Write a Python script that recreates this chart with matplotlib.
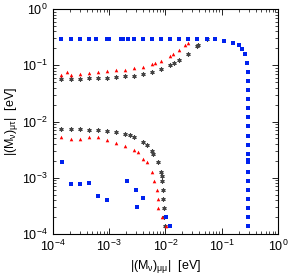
import matplotlib
matplotlib.use("Agg")
import matplotlib.pyplot as plt
import numpy as np

plt.rcParams['font.family'] = ['Liberation Sans', 'DejaVu Sans']
plt.rcParams['mathtext.fontset'] = 'custom'
plt.rcParams['mathtext.rm'] = 'Liberation Sans'
plt.rcParams['mathtext.it'] = 'Liberation Sans'

# blue squares: plateau then vertical drop at ~0.3 eV
blue_x = [1.39e-4, 2.09e-4, 3.02e-4, 4.36e-4, 5.8e-4, 9.1e-4, 9.9e-4, 1.62e-3, 1.75e-3,
          2.15e-3, 2.75e-3, 3.98e-3, 5.75e-3, 8.3e-3, 0.012, 0.0174, 0.025, 0.036, 0.0547,
          0.076, 0.11, 0.158, 0.203, 0.229, 0.259, 0.28,
          0.292, 0.293, 0.293, 0.293, 0.293, 0.293, 0.293, 0.293, 0.293, 0.293, 0.293,
          0.293, 0.293, 0.293, 0.293, 0.293, 0.293, 0.293, 0.293]
blue_y = [0.296, 0.296, 0.296, 0.296, 0.296, 0.296, 0.296, 0.296, 0.296,
          0.296, 0.296, 0.296, 0.296, 0.296, 0.296, 0.296, 0.296, 0.296, 0.296,
          0.296, 0.273, 0.25, 0.229, 0.194, 0.158, 0.11,
          0.076, 0.0525, 0.036, 0.025, 0.0174, 0.012, 0.0083, 0.0055, 0.0038, 0.0026,
          0.00207, 0.0019, 0.00126, 8.7e-4, 6.05e-4, 4.17e-4, 2.9e-4, 2.0e-4, 1.39e-4]

# blue squares: scattered low branch
blue2_x = [1.45e-4, 2.09e-4, 3.02e-4, 4.36e-4, 6.3e-4, 9.1e-4, 2.07e-3, 3.0e-3, 3.1e-3,
           3.98e-3, 0.0102, 0.012]
blue2_y = [1.9e-3, 7.7e-4, 7.7e-4, 8.1e-4, 4.7e-4, 4.0e-4, 8.75e-4, 6.05e-4, 3.0e-4,
           4.37e-4, 2.0e-4, 1.39e-4]

# red triangles: upper branch
red_x = [1.4e-4, 1.8e-4, 2.09e-4, 3.02e-4, 4.36e-4, 6.3e-4, 9.1e-4, 1.32e-3, 1.9e-3,
         2.75e-3, 3.98e-3, 5.75e-3, 6.5e-3, 8.3e-3, 0.012, 0.0135, 0.0174, 0.022, 0.025]
red_y = [0.067, 0.076, 0.067, 0.07, 0.073, 0.076, 0.079, 0.082, 0.082,
         0.089, 0.093, 0.105, 0.11, 0.119, 0.146, 0.158, 0.187, 0.229, 0.249]

# red triangles: lower branch
red2_x = [1.4e-4, 2.09e-4, 3.02e-4, 4.36e-4, 6.3e-4, 9.1e-4, 1.32e-3, 1.9e-3, 2.75e-3,
          3.24e-3, 4.0e-3, 4.7e-3, 5.75e-3, 6.25e-3, 7.06e-3, 7.4e-3, 7.4e-3, 8.7e-3, 0.0102]
red2_y = [5.3e-3, 4.9e-3, 4.9e-3, 5.3e-3, 5.3e-3, 4.7e-3, 4.15e-3, 3.66e-3, 3.1e-3,
          2.87e-3, 2.15e-3, 1.9e-3, 1.26e-3, 8.75e-4, 6.05e-4, 4.2e-4, 2.9e-4, 2.0e-4, 1.39e-4]

# black asterisks: upper branch
blk_x = [1.4e-4, 2.09e-4, 3.02e-4, 4.36e-4, 6.3e-4, 9.1e-4, 1.32e-3, 1.9e-3, 2.75e-3,
         3.98e-3, 5.75e-3, 8.3e-3, 0.012, 0.014, 0.0174, 0.025, 0.036, 0.038, 0.0547]
blk_y = [0.057, 0.057, 0.057, 0.059, 0.059, 0.059, 0.062, 0.064, 0.064,
         0.07, 0.076, 0.086, 0.101, 0.11, 0.124, 0.158, 0.22, 0.229, 0.293]

# black asterisks: lower branch
blk2_x = [1.4e-4, 2.09e-4, 3.02e-4, 4.36e-4, 6.3e-4, 9.1e-4, 1.32e-3, 1.9e-3, 2.34e-3,
          2.75e-3, 4.0e-3, 4.7e-3, 5.75e-3, 6.0e-3, 7.4e-3, 8.3e-3, 8.7e-3, 8.7e-3,
          9.0e-3, 9.0e-3, 9.4e-3, 9.4e-3, 9.8e-3]
blk2_y = [7.4e-3, 7.4e-3, 7.4e-3, 7.1e-3, 7.1e-3, 6.8e-3, 6.5e-3, 6.0e-3, 5.75e-3,
          5.3e-3, 4.3e-3, 3.8e-3, 3.0e-3, 2.64e-3, 1.9e-3, 1.26e-3, 1.07e-3, 8.75e-4,
          6.05e-4, 4.2e-4, 2.9e-4, 2.0e-4, 1.39e-4]

fig = plt.figure(figsize=(2.89, 2.75), dpi=100)
ax = fig.add_axes([0.183, 0.149, 0.779, 0.818])

ax.plot(blk_x + blk2_x, blk_y + blk2_y, ls='none', marker=(6, 2, 0), ms=3.0,
        mew=0.8, color='#444444')
ax.plot(red_x + red2_x, red_y + red2_y, ls='none', marker='^', ms=2.6, mew=0,
        color='red')
ax.plot(blue_x + blue2_x, blue_y + blue2_y, ls='none', marker='s', ms=2.6, mew=0,
        color='#0022ee')

ax.set_xscale('log')
ax.set_yscale('log')
ax.set_xlim(1e-4, 1)
ax.set_ylim(1e-4, 1)
ax.tick_params(which='both', direction='in', top=True, right=True, labelsize=9)
ax.tick_params(which='major', length=4, width=0.6)
ax.tick_params(which='minor', length=2, width=0.5)
for s in ax.spines.values():
    s.set_linewidth(0.8)

ax.set_xlabel(r'$|(\mathrm{M}_\nu)_{\mu\mu}|$  [eV]', fontsize=9, labelpad=3)
ax.set_ylabel(r'$|(\mathrm{M}_\nu)_{\mu\tau}|$  [eV]', fontsize=9, labelpad=2)

fig.savefig('out.png', dpi=100)
